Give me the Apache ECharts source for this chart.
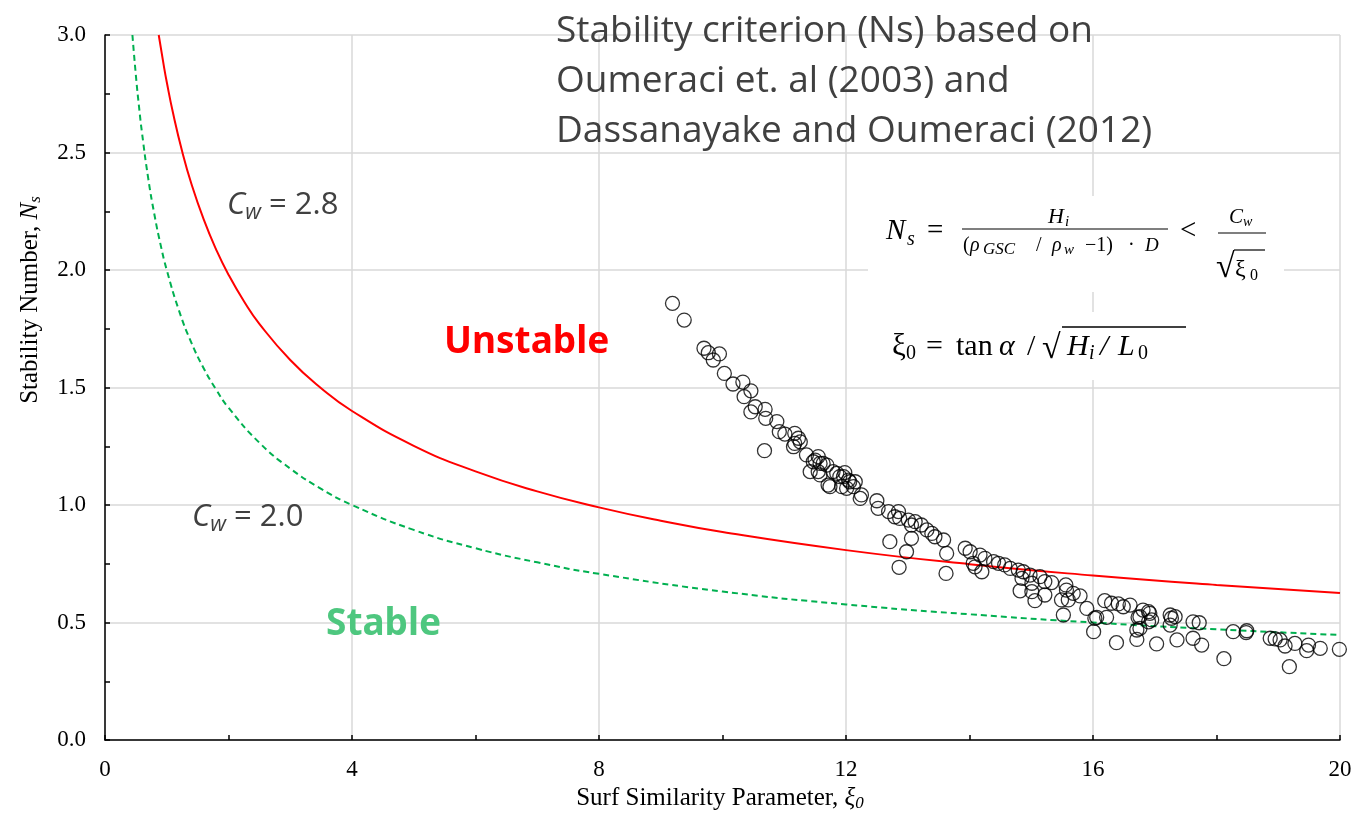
<!DOCTYPE html>
<html>
<head>
<meta charset="utf-8">
<script src="https://cdn.jsdelivr.net/npm/echarts@6/dist/echarts.min.js"></script>
<style>
  html, body { margin: 0; padding: 0; background: #fff; }
  #chart { width: 1351px; height: 822px; }
</style>
</head>
<body>
<div id="chart"></div>
<script>
// curve Cw = 2.8
var curveUnstable = [[0.87,3.0],[0.95,2.873],[1.0,2.8],[1.1,2.670],[1.25,2.504],[1.4,2.366],[1.6,2.214],[1.8,2.087],[2.0,1.980],[2.25,1.867],[2.5,1.771],[3.0,1.617],[3.5,1.497],[4,1.4],[5,1.252],[6,1.143],[7,1.058],[8,0.990],[9,0.933],[10,0.885],[12,0.808],[14,0.748],[16,0.700],[18,0.660],[20,0.626]]
// curve Cw = 2.0
var curveStable = [[0.444,3.0],[0.5,2.828],[0.55,2.697],[0.6,2.582],[0.7,2.390],[0.8,2.236],[0.9,2.108],[1.0,2.0],[1.2,1.826],[1.4,1.690],[1.6,1.581],[1.8,1.491],[2.0,1.414],[2.5,1.265],[3,1.155],[3.5,1.069],[4,1.0],[5,0.894],[6,0.816],[7,0.756],[8,0.707],[10,0.632],[12,0.577],[14,0.535],[16,0.5],[18,0.471],[20,0.447]]
// measured points [xi0, Ns]
var samples = [[9.19,1.858],[9.38,1.787],[9.70,1.667],[9.77,1.648],[9.95,1.643],[9.85,1.617],[10.03,1.560],[10.17,1.515],[10.33,1.523],[10.46,1.486],[10.35,1.461],[10.53,1.418],[10.46,1.396],[10.69,1.407],[10.70,1.369],[10.88,1.355],[10.92,1.312],[11.01,1.302],[11.17,1.305],[11.23,1.284],[11.17,1.262],[11.26,1.269],[11.15,1.248],[10.68,1.231],[11.36,1.213],[11.50,1.191],[11.58,1.177],[11.69,1.170],[11.42,1.142],[11.55,1.142],[11.79,1.142],[11.98,1.138],[11.90,1.121],[12.04,1.106],[12.15,1.099],[11.71,1.085],[11.93,1.078],[11.55,1.206],[11.47,1.184],[11.63,1.177],[11.58,1.128],[11.74,1.078],[11.85,1.135],[11.96,1.121],[12.06,1.099],[12.12,1.078],[12.01,1.071],[12.25,1.043],[12.23,1.028],[12.50,1.018],[12.52,0.986],[12.69,0.972],[12.85,0.972],[12.79,0.950],[12.87,0.943],[13.01,0.936],[13.12,0.929],[13.06,0.915],[13.22,0.915],[13.31,0.894],[13.39,0.879],[13.44,0.865],[13.58,0.851],[12.71,0.844],[13.06,0.858],[12.98,0.801],[13.63,0.794],[12.86,0.735],[13.62,0.709],[13.93,0.816],[14.01,0.801],[14.17,0.787],[14.25,0.773],[14.06,0.752],[14.20,0.716],[14.39,0.759],[14.09,0.737],[14.47,0.752],[14.57,0.745],[14.66,0.730],[14.79,0.723],[14.87,0.716],[14.98,0.702],[14.85,0.688],[15.14,0.695],[15.01,0.667],[14.82,0.635],[15.22,0.674],[15.33,0.670],[15.01,0.631],[15.06,0.593],[15.22,0.617],[15.56,0.660],[15.57,0.638],[15.68,0.624],[15.79,0.613],[15.49,0.596],[15.60,0.596],[15.90,0.560],[15.52,0.532],[16.06,0.522],[16.01,0.461],[16.22,0.522],[16.19,0.593],[16.30,0.582],[16.41,0.579],[16.49,0.567],[16.60,0.574],[16.38,0.414],[16.73,0.522],[16.81,0.553],[16.90,0.546],[16.95,0.511],[16.76,0.475],[16.71,0.428],[17.03,0.409],[16.03,0.518],[16.71,0.468],[16.76,0.525],[16.92,0.539],[16.90,0.503],[17.25,0.532],[17.27,0.518],[17.33,0.525],[17.25,0.489],[17.36,0.426],[17.62,0.503],[17.72,0.499],[17.62,0.433],[17.76,0.404],[18.12,0.346],[18.27,0.461],[18.48,0.457],[18.49,0.465],[18.87,0.433],[18.95,0.430],[19.03,0.426],[19.11,0.400],[19.27,0.411],[19.18,0.312],[19.49,0.404],[19.46,0.380],[19.68,0.390],[19.99,0.386]]

var titleLines = ['Stability criterion (Ns) based on', 'Oumeraci et. al (2003) and', 'Dassanayake and Oumeraci (2012)']

var serif = 'Liberation Serif'
var sans = 'Open Sans'

// small helper for the annotation texts
function txt(x, y, text, size, o) {
  o = o || {}
  return {
    type: 'text', x: x, y: y, z: 100, rotation: o.rot || 0,
    style: {
      text: text, fontSize: size, fontFamily: o.ff || serif,
      fontStyle: o.it ? 'italic' : 'normal', fontWeight: o.bold ? 'bold' : 'normal',
      fill: o.color || '#000', align: o.align || 'left', verticalAlign: o.va || 'middle',
      lineHeight: o.lh, rich: o.rich
    }
  }
}
function hline(x1, x2, y, w) {
  return { type: 'line', z: 100, shape: { x1: x1, y1: y, x2: x2, y2: y }, style: { stroke: '#000', lineWidth: w || 1.2 } }
}
function cwRich() {
  return {
    c: { fontFamily: sans, fontStyle: 'italic', fontSize: 31, color: '#404040' },
    w: { fontFamily: sans, fontStyle: 'italic', fontSize: 22, color: '#404040', padding: [16, 0, 0, 0] },
    n: { fontFamily: sans, fontSize: 31, color: '#404040' }
  }
}

var myChart = echarts.init(document.getElementById('chart'))

var graphics = [
  // white boxes behind the formulas
  { type: 'rect', z: 90, shape: { x: 868, y: 196, width: 416, height: 96 }, style: { fill: '#fff' } },
  { type: 'rect', z: 90, shape: { x: 880, y: 312, width: 315, height: 68 }, style: { fill: '#fff' } },

  txt(556, 6, titleLines.join('\n'), 37, { ff: sans, color: '#404040', va: 'top', lh: 50 }),

  txt(227, 205, '{c|C}{w|w}{n| = 2.8}', 31, { ff: sans, color: '#404040', rich: cwRich() }),
  txt(192, 517, '{c|C}{w|w}{n| = 2.0}', 31, { ff: sans, color: '#404040', rich: cwRich() }),

  txt(444, 342, 'Unstable', 37, { ff: 'Noto Sans', bold: true, color: '#ff0000' }),
  txt(326, 624, 'Stable', 37, { ff: 'Noto Sans', bold: true, color: '#4ec77f' }),

  // Ns formula
  txt(886, 231, 'N', 29, { it: true }),
  txt(907, 240, 's', 20, { it: true }),
  txt(927, 231, '=', 29),
  txt(1048, 217, 'H', 22, { it: true }),
  txt(1065, 222, 'i', 15, { it: true }),
  hline(962, 1168, 229),
  txt(963, 246, '(', 20),
  txt(970, 246, 'ρ', 20, { it: true }),
  txt(983, 250, 'GSC', 17, { it: true }),
  txt(1036, 246, '/', 20),
  txt(1052, 246, 'ρ', 20, { it: true }),
  txt(1064, 250, 'w', 15, { it: true }),
  txt(1085, 246, '−1)', 20),
  txt(1128, 246, '·', 20),
  txt(1145, 246, 'D', 19, { it: true }),
  txt(1180, 231, '<', 29),
  txt(1229, 217, 'C', 21, { it: true }),
  txt(1243, 222, 'w', 14, { it: true }),
  hline(1218, 1266, 233),
  txt(1216, 268, '√', 34),
  hline(1234, 1265, 250, 1.2),
  txt(1235, 270, 'ξ', 24),
  txt(1250, 276, '0', 16),

  // xi0 formula
  txt(892, 347, 'ξ', 31),
  txt(906, 354, '0', 20),
  txt(926, 347, '=', 30),
  txt(956, 347, 'tan', 30),
  txt(999, 347, 'α', 30, { it: true }),
  txt(1027, 347, '/', 30),
  txt(1042, 349, '√', 34),
  hline(1062, 1186, 327, 1.4),
  txt(1067, 347, 'H', 30, { it: true }),
  txt(1089, 354, 'i', 20, { it: true }),
  txt(1100, 347, '/', 30, { it: true }),
  txt(1118, 347, 'L', 30, { it: true }),
  txt(1138, 354, '0', 20),

  // axis names
  txt(30, 300, '{a|Stability Number, }{b|N}{c|s}', 25, { rot: Math.PI / 2, align: 'center',
    rich: { a: { fontFamily: serif, fontSize: 25, color: '#000' },
            b: { fontFamily: serif, fontStyle: 'italic', fontSize: 25, color: '#000' },
            c: { fontFamily: serif, fontStyle: 'italic', fontSize: 17, color: '#000', padding: [12, 0, 0, 0] } } }),
  txt(720, 798, '{a|Surf Similarity Parameter, }{b|ξ}{c|0}', 25, { align: 'center',
    rich: { a: { fontFamily: serif, fontSize: 25, color: '#000' },
            b: { fontFamily: serif, fontStyle: 'italic', fontSize: 25, color: '#000' },
            c: { fontFamily: serif, fontStyle: 'italic', fontSize: 17, color: '#000', padding: [12, 0, 0, 0] } } })
]

var option = {
  animation: false,
  backgroundColor: '#fff',
  grid: { left: 105, right: 11, top: 35, bottom: 82, containLabel: false, outerBoundsMode: 'none' },
  xAxis: {
    type: 'value', min: 0, max: 20, interval: 4,
    axisLine: { show: true, lineStyle: { color: '#000', width: 1.5 } },
    axisTick: { show: true, inside: true, length: 5, lineStyle: { color: '#000', width: 1.5 } },
    minorTick: { show: true, splitNumber: 2, length: 5, lineStyle: { color: '#000', width: 1.5 } },
    axisLabel: { margin: 18, fontFamily: serif, fontSize: 23, color: '#000' },
    splitLine: { show: true, lineStyle: { color: '#d9d9d9', width: 1.5 } }
  },
  yAxis: {
    type: 'value', min: 0, max: 3, interval: 0.5,
    axisLine: { show: true, lineStyle: { color: '#000', width: 1.5 } },
    axisTick: { show: true, inside: true, length: 5, lineStyle: { color: '#000', width: 1.5 } },
    minorTick: { show: true, splitNumber: 2, length: 5, lineStyle: { color: '#000', width: 1.5 } },
    axisLabel: { margin: 19, fontFamily: serif, fontSize: 23, color: '#000', formatter: function (v) { return v.toFixed(1) } },
    splitLine: { show: true, lineStyle: { color: '#d9d9d9', width: 1.5 } }
  },
  series: [
    {
      type: 'line', data: curveUnstable, smooth: true, showSymbol: false, clip: true,
      lineStyle: { color: '#ff0000', width: 2 }, z: 3
    },
    {
      type: 'line', data: curveStable, smooth: true, showSymbol: false, clip: true,
      lineStyle: { color: '#00b050', width: 2, type: [6, 4] }, z: 3
    },
    {
      type: 'scatter', data: samples, symbol: 'circle', symbolSize: 14,
      itemStyle: { color: 'rgba(0,0,0,0)', borderColor: '#000', borderWidth: 1.3 }, z: 4
    }
  ],
  graphic: graphics
}
myChart.setOption(option)
</script>
</body>
</html>
